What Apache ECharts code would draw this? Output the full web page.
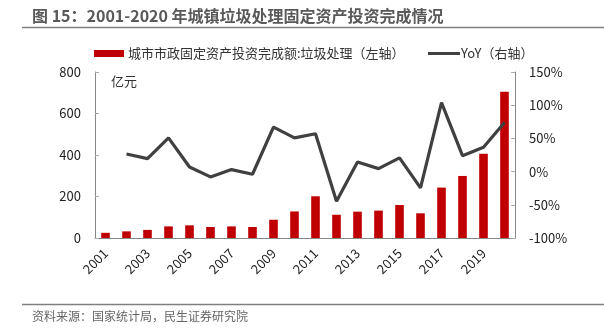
<!DOCTYPE html>
<html><head><meta charset="utf-8">
<script src="https://cdn.jsdelivr.net/npm/echarts@6/dist/echarts.min.js"></script>
<style>html,body{margin:0;padding:0;background:#fff}#c{width:604px;height:333px}</style>
</head><body><div id="c"></div>
<script>
var years = ['2001','2002','2003','2004','2005','2006','2007','2008','2009','2010','2011','2012','2013','2014','2015','2016','2017','2018','2019','2020'];
var invest = [25,32,39,56,61,53,56,53,88,128,201,112,127,132,159,119,243,299,406,705];
var yoy = [null,26.6,19.6,50.7,7,-8,3,-4,67,50.7,57,-44.7,14.6,4.5,20.6,-24.6,104,24,36.6,74];
var leftTicks = [0,200,400,600,800];
var rightTicks = [-100,-50,0,50,100,150];

var chart = echarts.init(document.getElementById('c'));
var font = '"Noto Sans CJK SC", sans-serif';
var barName = '城市市政固定资产投资完成额:垃圾处理（左轴）';
var lineName = 'YoY（右轴）';
chart.setOption({
  animation:false,
  textStyle:{fontFamily:font},
  title:{text:'图 15：2001-2020 年城镇垃圾处理固定资产投资完成情况',left:27,top:3,
    textStyle:{fontSize:16,fontWeight:'bold',color:'#595959',fontFamily:font}},
  graphic:[
    {type:'line',shape:{x1:22,y1:27.5,x2:604,y2:27.5},style:{stroke:'#7f7f7f',lineWidth:1.5}},
    {type:'line',shape:{x1:22,y1:304.5,x2:604,y2:304.5},style:{stroke:'#7f7f7f',lineWidth:1.5}},
    {type:'text',left:32,top:310,style:{text:'资料来源：国家统计局，民生证券研究院',fill:'#666',font:'12px '+font}},
    {type:'text',left:111,top:75,style:{text:'亿元',fill:'#333',font:'13px '+font}}
  ],
  legend:[
    {top:42,left:89,itemWidth:30,itemHeight:7,itemGap:0,
     textStyle:{fontSize:13,color:'#333',fontFamily:font,padding:[0,0,0,-1]},
     data:[{name:barName,icon:'rect'}]},
    {top:42,left:423,itemWidth:32,itemHeight:3,
     textStyle:{fontSize:13,color:'#333',fontFamily:font,padding:[0,0,0,-4]},
     data:[{name:lineName,icon:'rect'}]}
  ],
  grid:{left:95,right:89,top:72,bottom:95},
  xAxis:{type:'category',data:years,boundaryGap:true,
    axisLine:{lineStyle:{color:'#888'}},
    axisTick:{inside:true,length:4,lineStyle:{color:'#aaa'}},
    axisLabel:{interval:1,rotate:45,color:'#222',fontSize:13,margin:13}},
  yAxis:[
    {type:'value',min:0,max:800,interval:200,splitLine:{show:false},
     axisLine:{show:true,lineStyle:{color:'#888'}},
     axisTick:{show:true,inside:true,length:4,lineStyle:{color:'#aaa'}},
     axisLabel:{color:'#222',fontSize:13,margin:14}},
    {type:'value',min:-100,max:150,interval:50,splitLine:{show:false},
     axisLine:{show:true,lineStyle:{color:'#888'}},
     axisTick:{show:true,inside:true,length:4,lineStyle:{color:'#aaa'}},
     axisLabel:{color:'#222',fontSize:13,margin:14,formatter:'{value}%'}}
  ],
  series:[
    {name:barName,type:'bar',data:invest,barWidth:'41%',
     itemStyle:{color:'#C00000'}},
    {name:lineName,type:'line',yAxisIndex:1,data:yoy,symbol:'none',
     lineStyle:{color:'#404040',width:3.2},itemStyle:{color:'#404040'}}
  ]
});
</script></body></html>
